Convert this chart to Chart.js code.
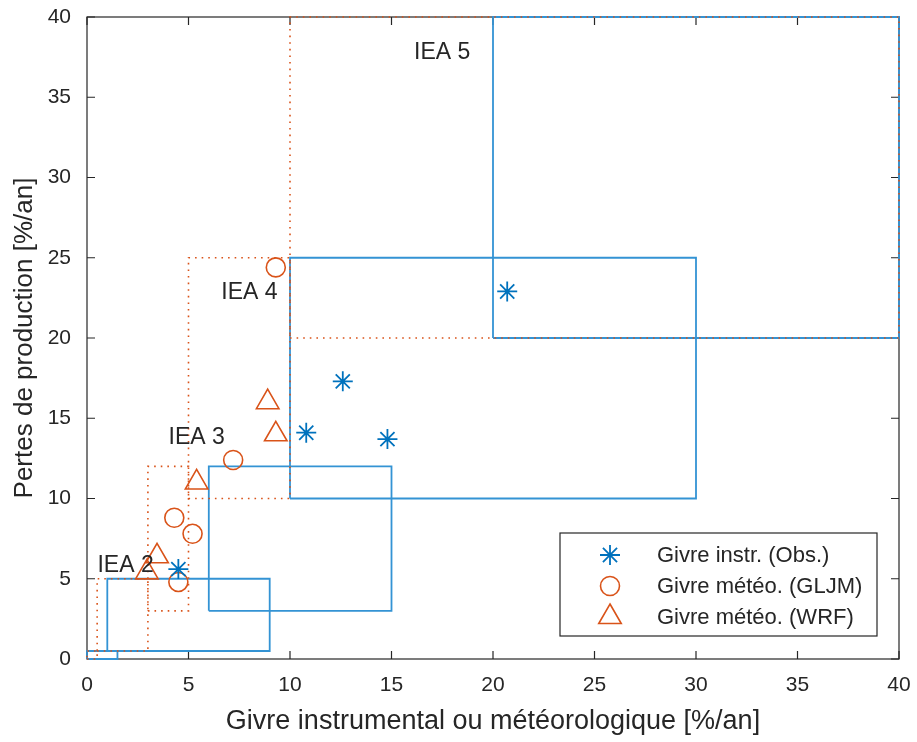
<!DOCTYPE html>
<html>
<head>
<meta charset="utf-8">
<script src="https://cdn.jsdelivr.net/npm/chart.js@4"></script>
<style>
  html, body { margin: 0; padding: 0; background: #fff; }
  #wrap { width: 917px; height: 742px; }
</style>
</head>
<body>
<div id="wrap"><canvas id="myChart" width="917" height="742"></canvas></div>
<script>
// observed points
const obsX = [4.5, 10.8, 12.6, 14.8, 20.7];
const obsY = [5.6, 14.1, 17.3, 13.7, 22.9];
const gljmX = [4.5, 4.3, 5.2, 7.2, 9.3];
const gljmY = [4.8, 8.8, 7.8, 12.4, 24.4];
const wrfX = [2.95, 3.45, 5.4, 8.9, 9.3];
const wrfY = [5.4, 6.4, 11.0, 16.0, 14.0];

// IEA ice classes 1..5
const ieaInstrX = [[0, 1.5], [1, 9], [6, 15], [10, 30], [20, 40]];
const ieaMetX = [[0, 0.5], [0.5, 3], [3, 5], [5, 10], [10, 40]];
const ieaLossY = [[0, 0.5], [0.5, 5], [3, 12], [10, 25], [20, 40]];

// class labels
const labelText = ['IEA 2', 'IEA 3', 'IEA 4', 'IEA 5'];
const labelX = [1.9, 5.4, 8.0, 17.5];
const labelY = [5.8, 13.8, 22.8, 37.8];

const xTicks = [0, 5, 10, 15, 20, 25, 30, 35, 40];
const yTicks = [0, 5, 10, 15, 20, 25, 30, 35, 40];

const FONT = 'Liberation Sans, Arial, Helvetica, sans-serif';
const BLUE = '#0072BD';
const ORANGE = '#D95319';
const AXIS = '#262626';

function toPoints(xs, ys) {
    return xs.map((x, i) => ({ x: x, y: ys[i] }));
}

function rectPoints(xr, yr) {
    return [
        { x: xr[0], y: yr[0] }, { x: xr[1], y: yr[0] },
        { x: xr[1], y: yr[1] }, { x: xr[0], y: yr[1] },
        { x: xr[0], y: yr[0] }
    ];
}

// first dataset is drawn on top
const datasets = [
    {
        label: 'Givre instr. (Obs.)',
        data: toPoints(obsX, obsY),
        pointStyle: 'star', pointRadius: 10,
        borderColor: BLUE, backgroundColor: BLUE, borderWidth: 1.8,
        showLine: false
    },
    {
        label: 'Givre météo. (GLJM)',
        data: toPoints(gljmX, gljmY),
        pointStyle: 'circle', pointRadius: 9.5,
        borderColor: ORANGE, backgroundColor: 'rgba(0,0,0,0)', borderWidth: 1.6,
        showLine: false
    },
    {
        label: 'Givre météo. (WRF)',
        data: toPoints(wrfX, wrfY),
        pointStyle: 'triangle', pointRadius: 13,
        borderColor: ORANGE, backgroundColor: 'rgba(0,0,0,0)', borderWidth: 1.6,
        showLine: false
    }
];

// meteorological class boxes (dotted), then instrumental class boxes (solid) below them
ieaMetX.forEach((xr, i) => {
    datasets.push({
        label: 'rect',
        data: rectPoints(xr, ieaLossY[i]),
        showLine: true, pointRadius: 0, borderColor: ORANGE, borderWidth: 1.6,
        borderDash: [1.6, 5], fill: false, clip: 4, tension: 0
    });
});
ieaInstrX.forEach((xr, i) => {
    datasets.push({
        label: 'rect',
        data: rectPoints(xr, ieaLossY[i]),
        showLine: true, pointRadius: 0, borderColor: '#3393d4', borderWidth: 1.8,
        fill: false, clip: 4, tension: 0
    });
});

// box frame with inward ticks (matlab style)
const framePlugin = {
    id: 'frame',
    beforeDatasetsDraw(chart) {
        const { ctx, chartArea: a, scales } = chart;
        ctx.save();
        ctx.strokeStyle = AXIS;
        ctx.lineWidth = 1.2;
        ctx.strokeRect(a.left, a.top, a.right - a.left, a.bottom - a.top);
        const len = 8;
        ctx.beginPath();
        xTicks.forEach(v => {
            const px = scales.x.getPixelForValue(v);
            ctx.moveTo(px, a.bottom); ctx.lineTo(px, a.bottom - len);
            ctx.moveTo(px, a.top); ctx.lineTo(px, a.top + len);
        });
        yTicks.forEach(v => {
            const py = scales.y.getPixelForValue(v);
            ctx.moveTo(a.left, py); ctx.lineTo(a.left + len, py);
            ctx.moveTo(a.right, py); ctx.lineTo(a.right - len, py);
        });
        ctx.stroke();
        ctx.restore();
    },
    afterDatasetsDraw(chart) {
        const { ctx, scales } = chart;
        ctx.save();
        // class labels
        ctx.fillStyle = AXIS;
        ctx.font = '23px ' + FONT;
        ctx.textAlign = 'center';
        ctx.textBaseline = 'middle';
        labelText.forEach((t, i) => {
            ctx.fillText(t, scales.x.getPixelForValue(labelX[i]), scales.y.getPixelForValue(labelY[i]));
        });

        // legend box
        const lx = 560, ly = 533, lw = 317, lh = 103;
        ctx.fillStyle = '#fff';
        ctx.fillRect(lx, ly, lw, lh);
        ctx.strokeStyle = AXIS;
        ctx.lineWidth = 1.2;
        ctx.strokeRect(lx, ly, lw, lh);
        ctx.textAlign = 'left';
        ctx.font = '22px ' + FONT;
        [0, 1, 2].forEach(i => {
            const ds = chart.data.datasets[i];
            const y = ly + 22 + i * 31;
            ctx.strokeStyle = ds.borderColor;
            ctx.fillStyle = ds.backgroundColor;
            ctx.lineWidth = ds.borderWidth;
            Chart.helpers.drawPoint(ctx, {
                pointStyle: ds.pointStyle, radius: ds.pointRadius, rotation: 0, borderWidth: ds.borderWidth
            }, lx + 50, y);
            ctx.fillStyle = AXIS;
            ctx.fillText(ds.label, lx + 97, y + 1);
        });
        ctx.restore();
    }
};

const ctx = document.getElementById('myChart');

new Chart(ctx, {
    type: 'scatter',
    data: { datasets: datasets },
    options: {
        responsive: false,
        animation: false,
        layout: { padding: { left: 0, right: 18, top: 17, bottom: 0 } },
        plugins: {
            legend: { display: false },
            tooltip: { enabled: false }
        },
        scales: {
            x: {
                type: 'linear', min: 0, max: 40,
                afterFit: s => { s.height = 83; s.paddingLeft = 0; s.paddingRight = 0; },
                afterBuildTicks: s => { s.ticks = xTicks.map(v => ({ value: v })); },
                grid: { display: false, drawTicks: false },
                border: { display: false },
                ticks: { color: AXIS, font: { family: FONT, size: 21 }, padding: 14, maxRotation: 0 },
                title: {
                    display: true, text: 'Givre instrumental ou météorologique [%/an]',
                    color: AXIS, font: { family: FONT, size: 27 }, padding: { top: 4, bottom: 4 }
                }
            },
            y: {
                type: 'linear', min: 0, max: 40,
                afterFit: s => { s.width = 87; s.paddingTop = 0; s.paddingBottom = 0; },
                afterBuildTicks: s => { s.ticks = yTicks.map(v => ({ value: v })); },
                grid: { display: false, drawTicks: false },
                border: { display: false },
                ticks: { color: AXIS, font: { family: FONT, size: 21 }, padding: 16 },
                title: {
                    display: true, text: 'Pertes de production [%/an]',
                    color: AXIS, font: { family: FONT, size: 26 }, padding: { top: 9, bottom: 4 }
                }
            }
        }
    },
    plugins: [framePlugin]
});
</script>
</body>
</html>
